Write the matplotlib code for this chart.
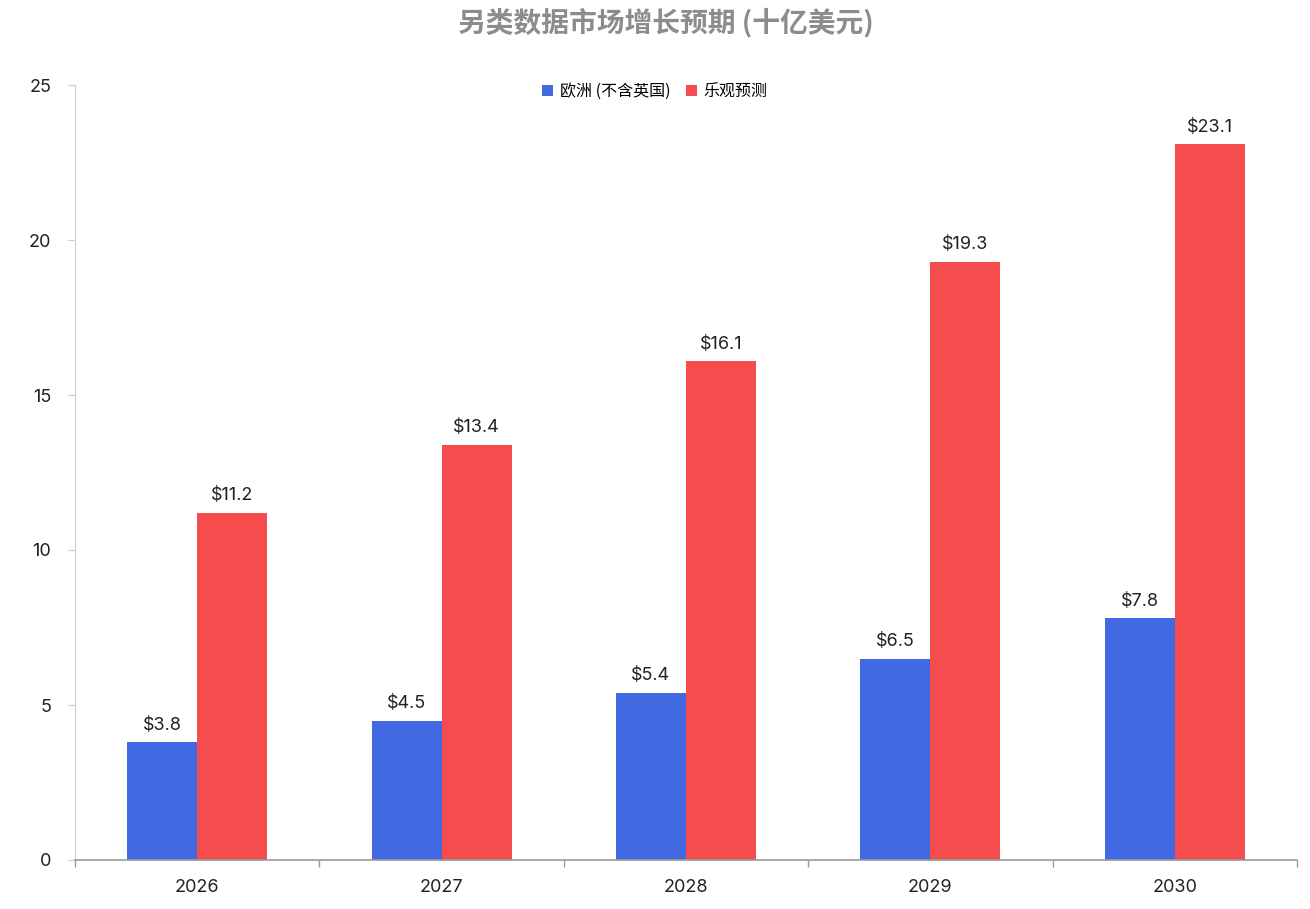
import numpy as np
import matplotlib.pyplot as plt

plt.rcParams['font.family'] = ['Inter', 'Noto Sans CJK SC', 'DejaVu Sans']
cjk = ['Noto Sans CJK SC', 'DejaVu Sans']

years = ['2026', '2027', '2028', '2029', '2030']
europe = [3.8, 4.5, 5.4, 6.5, 7.8]
optimistic = [11.2, 13.4, 16.1, 19.3, 23.1]
series_names = ['欧洲 (不含英国)', '乐观预测']
colors = ['#4169E1', '#F54C4E']

fig = plt.figure(figsize=(13.1, 9.09), dpi=100)
ax = fig.add_axes([75 / 1310, 49 / 909, 1222 / 1310, 775 / 909])

x = np.arange(len(years))
w = 70 / 244.4
b1 = ax.bar(x - w / 2, europe, w, color=colors[0], label=series_names[0])
b2 = ax.bar(x + w / 2, optimistic, w, color=colors[1], label=series_names[1])

# value labels above bars
for bars in (b1, b2):
    for rect in bars:
        v = rect.get_height()
        ax.annotate(f'${v:g}', (rect.get_x() + rect.get_width() / 2, v),
                    xytext=(0, 6), textcoords='offset points',
                    ha='center', va='bottom', fontsize=13, color='#222222')

ax.set_xlim(-0.5, len(years) - 0.5)
ax.set_ylim(0, 25)
ax.set_yticks([0, 5, 10, 15, 20, 25])
ax.set_xticks(x)
ax.set_xticklabels(years)
ax.set_xticks(np.arange(-0.5, len(years)), minor=True)
ax.tick_params(axis='x', which='major', length=0, pad=14, labelsize=13, labelcolor='#222222')
ax.tick_params(axis='x', which='minor', length=5, color='#999999', width=1)
ax.tick_params(axis='y', length=5, color='#cccccc', pad=12, labelsize=13, labelcolor='#222222')

for s in ['top', 'right']:
    ax.spines[s].set_visible(False)
ax.spines['left'].set_color('#cccccc')
ax.spines['bottom'].set_color('#999999')
ax.spines['bottom'].set_linewidth(1.2)

fig.text(0.508, 0.975, '另类数据市场增长预期 (十亿美元)', ha='center', va='center',
         fontsize=20, fontweight='bold', color='#8c8c8c', family=cjk)

fig.legend(loc='center', bbox_to_anchor=(0.5, 0.899), ncol=2, frameon=False,
           prop={'family': cjk, 'size': 11.5},
           handlelength=0.7, handleheight=0.7, handletextpad=0.4,
           columnspacing=1.0)

fig.savefig('out.png', dpi=100)
